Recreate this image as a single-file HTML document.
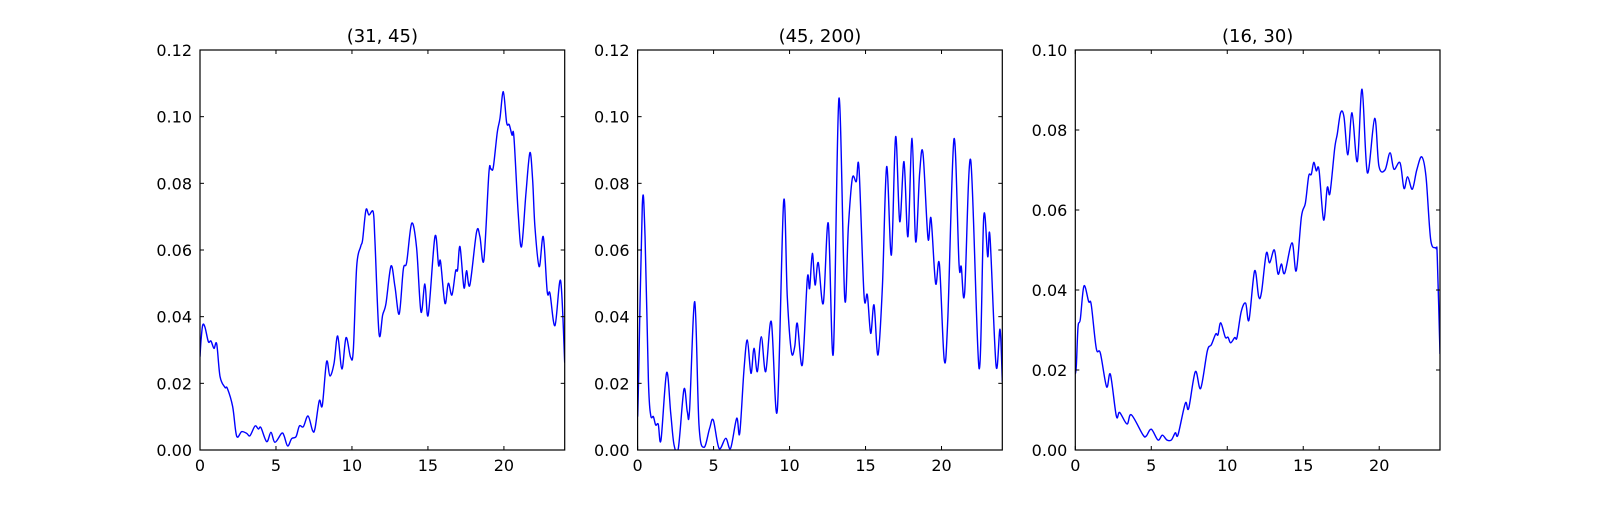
<!DOCTYPE html>
<html><head><meta charset="utf-8"><style>
html,body{margin:0;padding:0;background:#fff;}
svg text{font-family:"DejaVu Sans","Liberation Sans",sans-serif;}
</style></head><body>
<svg id="fig" width="1600" height="500" xmlns="http://www.w3.org/2000/svg"></svg>
<script>
const titles = ["(31, 45)", "(45, 200)", "(16, 30)"];
const xTicks = [0, 5, 10, 15, 20];
const yMaxes = [0.12, 0.12, 0.10];
const yTicksA = [0, 0.02, 0.04, 0.06, 0.08, 0.10, 0.12];
const yTicksC = [0, 0.02, 0.04, 0.06, 0.08, 0.10];

const x1 = [0,0.07,0.18,0.33,0.55,0.72,0.92,1.10,1.32,1.64,1.80,2.15,2.41,2.74,3.07,3.29,3.62,3.84,4.01,4.39,4.67,4.93,5.37,5.53,5.77,6.03,6.32,6.54,6.80,7.11,7.41,7.57,7.85,8.05,8.33,8.55,8.82,9.06,9.34,9.61,9.91,10.09,10.31,10.57,10.70,10.92,11.12,11.40,11.51,11.78,12.02,12.24,12.57,12.83,13.11,13.38,13.60,13.93,14.25,14.54,14.80,15.02,15.46,15.70,15.83,16.12,16.34,16.58,16.82,16.95,17.11,17.37,17.54,17.76,18.20,18.42,18.68,19.01,19.14,19.30,19.56,19.74,19.96,20.18,20.35,20.53,20.66,20.94,21.16,21.45,21.71,21.89,22.04,22.32,22.59,22.85,23.03,23.36,23.73,24.0];
const y1 = [0.028,0.033,0.0375,0.0368,0.0325,0.0327,0.0305,0.0318,0.022,0.0188,0.0185,0.013,0.0042,0.0055,0.005,0.0043,0.0072,0.0063,0.0067,0.0025,0.0053,0.0023,0.005,0.0043,0.0012,0.0034,0.004,0.0072,0.007,0.0102,0.0058,0.0065,0.0148,0.0134,0.0265,0.0222,0.026,0.0342,0.0243,0.0337,0.0278,0.030,0.055,0.061,0.063,0.072,0.0705,0.0714,0.063,0.035,0.0405,0.044,0.0552,0.049,0.0408,0.0542,0.0563,0.068,0.0608,0.0415,0.0498,0.0405,0.064,0.0554,0.0565,0.044,0.050,0.0465,0.0537,0.054,0.061,0.0487,0.0538,0.0495,0.0654,0.064,0.057,0.083,0.0843,0.0848,0.0952,0.0995,0.1075,0.0982,0.0976,0.0945,0.0938,0.071,0.061,0.077,0.0892,0.081,0.067,0.055,0.064,0.0475,0.047,0.0373,0.0508,0.0262];

const x2 = [0,0.05,0.31,0.49,0.71,0.86,1.04,1.19,1.36,1.54,1.91,2.18,2.40,2.68,3.05,3.27,3.42,3.76,4.04,4.37,4.74,4.98,5.36,5.80,6.12,6.52,6.72,7.0,7.22,7.46,7.66,7.88,8.14,8.43,8.8,9.19,9.61,9.85,10.12,10.34,10.51,10.84,11.17,11.32,11.50,11.68,11.89,12.22,12.55,12.88,13.25,13.63,13.87,14.13,14.39,14.57,14.90,15.12,15.34,15.56,15.82,16.11,16.39,16.70,16.98,17.25,17.53,17.79,18.06,18.30,18.56,18.78,19.11,19.31,19.61,19.86,20.18,20.41,20.82,21.15,21.30,21.52,21.92,22.47,22.78,23.04,23.19,23.59,23.85,24.0];
const y2 = [0.01,0.018,0.0735,0.064,0.021,0.0105,0.010,0.0075,0.0077,0.003,0.0232,0.011,0.0015,0.0005,0.0182,0.0115,0.012,0.0445,0.0075,0.0008,0.0065,0.009,0.0005,0.0035,0.0005,0.0095,0.005,0.024,0.033,0.023,0.0305,0.0235,0.034,0.0235,0.0385,0.0118,0.0745,0.046,0.0295,0.031,0.038,0.0255,0.0515,0.0485,0.059,0.0495,0.0562,0.044,0.068,0.029,0.1055,0.0455,0.067,0.0815,0.0805,0.0845,0.0465,0.0465,0.035,0.0435,0.0285,0.049,0.085,0.0585,0.094,0.0685,0.0865,0.064,0.0935,0.0625,0.083,0.089,0.0635,0.0695,0.050,0.0558,0.027,0.039,0.0933,0.056,0.055,0.047,0.087,0.0245,0.070,0.058,0.064,0.0253,0.0362,0.0205];

const x3 = [0,0.07,0.18,0.33,0.57,0.88,1.05,1.38,1.65,2.06,2.31,2.70,2.92,3.40,3.69,4.45,4.67,5.00,5.44,5.73,6.03,6.32,6.58,6.76,7.24,7.46,7.90,8.25,8.69,8.95,9.24,9.39,9.57,9.87,10.05,10.22,10.49,10.64,10.92,11.21,11.43,11.80,12.07,12.26,12.57,12.79,13.10,13.34,13.56,13.78,14.26,14.54,14.88,15.14,15.36,15.53,15.69,15.86,16.04,16.34,16.58,16.76,17.07,17.24,17.46,17.68,17.94,18.21,18.56,18.87,19.22,19.70,19.98,20.38,20.71,20.97,21.37,21.63,21.87,22.18,22.47,22.80,23.08,23.39,23.74,23.82,24.0];
const y3 = [0.019,0.0212,0.0308,0.0327,0.041,0.0371,0.0363,0.0254,0.0242,0.0158,0.0189,0.0085,0.0094,0.0065,0.0088,0.0038,0.0035,0.0052,0.0025,0.0037,0.0025,0.0025,0.0043,0.0038,0.0117,0.0104,0.0196,0.0154,0.0248,0.0263,0.029,0.0288,0.0318,0.0282,0.0282,0.0268,0.0281,0.0281,0.0346,0.0367,0.0325,0.0448,0.0383,0.0396,0.0492,0.0468,0.050,0.044,0.0465,0.0442,0.0518,0.0448,0.0583,0.0617,0.0685,0.0689,0.0719,0.0698,0.070,0.0575,0.0656,0.0642,0.0754,0.079,0.0843,0.0833,0.0738,0.0843,0.0721,0.0902,0.0693,0.0829,0.071,0.070,0.0743,0.0702,0.0718,0.0654,0.0683,0.0652,0.070,0.0733,0.0683,0.0525,0.0504,0.0483,0.024];

const seriesX = [x1, x2, x3];
const seriesY = [y1, y2, y3];
const yTickSets = [yTicksA, yTicksA, yTicksC];

const NS = "http://www.w3.org/2000/svg";
const fig = document.getElementById("fig");
function mk(tag, attrs, parent){
  const e = document.createElementNS(NS, tag);
  for (const k in attrs) e.setAttribute(k, attrs[k]);
  (parent||fig).appendChild(e);
  return e;
}
const axW = 364.7, axTop = 50, axBot = 450;
const lefts = [200, 637.6, 1075.3];

for (let p = 0; p < 3; p++) {
  const L = lefts[p], R = L + axW;
  const sx = v => L + v / 24 * axW;
  const sy = v => axBot - v / yMaxes[p] * (axBot - axTop);
  const g = mk("g", {});
  
  

  // line
  const xs = seriesX[p], ys = seriesY[p];
  const pts = xs.map((x,i)=>[sx(x), sy(ys[i])]);
  let d = "M" + pts[0][0].toFixed(2) + "," + pts[0][1].toFixed(2);
  for (let i = 0; i < pts.length - 1; i++) {
    const p0 = pts[Math.max(0,i-1)], p1 = pts[i], p2 = pts[i+1], p3 = pts[Math.min(pts.length-1,i+2)];
    const t = 1/6;
    const c1x = p1[0] + (p2[0]-p0[0])*t, c1y = p1[1] + (p2[1]-p0[1])*t;
    const c2x = p2[0] - (p3[0]-p1[0])*t, c2y = p2[1] - (p3[1]-p1[1])*t;
    d += " C" + c1x.toFixed(2)+","+c1y.toFixed(2)+" "+c2x.toFixed(2)+","+c2y.toFixed(2)+" "+p2[0].toFixed(2)+","+p2[1].toFixed(2);
  }
  const clipId = "clip" + p;
  const cp = mk("clipPath", {id: clipId}, g);
  mk("rect", {x: L, y: axTop, width: axW, height: axBot-axTop}, cp);
  const line = mk("path", {d: d, fill: "none", stroke: "#0000ff", "stroke-width": 1.4, "clip-path": "url(#"+clipId+")"}, g);
  
  

  // frame
  const frame = mk("rect", {x: L, y: axTop, width: axW, height: axBot-axTop, fill: "none", stroke: "#000", "stroke-width": 1.2}, g);
  
  

  // x ticks
  xTicks.forEach(v => {
    const x = sx(v);
    mk("line", {x1: x, y1: axBot, x2: x, y2: axBot-4, stroke: "#000", "stroke-width": 1}, g);
    mk("line", {x1: x, y1: axTop, x2: x, y2: axTop+4, stroke: "#000", "stroke-width": 1}, g);
    const t = mk("text", {x: x, y: axBot + 21, "text-anchor": "middle", "font-size": 16, fill: "#000"}, g);
    t.textContent = String(v);
    
    
  });
  // y ticks
  yTickSets[p].forEach(v => {
    const y = sy(v);
    mk("line", {x1: L, y1: y, x2: L+4, y2: y, stroke: "#000", "stroke-width": 1}, g);
    mk("line", {x1: R, y1: y, x2: R-4, y2: y, stroke: "#000", "stroke-width": 1}, g);
    const t = mk("text", {x: L - 8, y: y + 6, "text-anchor": "end", "font-size": 16, fill: "#000"}, g);
    t.textContent = v.toFixed(2);
    
    
  });
  // title
  const tt = mk("text", {x: L + axW/2, y: axTop - 8, "text-anchor": "middle", "font-size": 18, fill: "#000"}, g);
  tt.textContent = titles[p];
  
  
}
</script>
</body></html>
